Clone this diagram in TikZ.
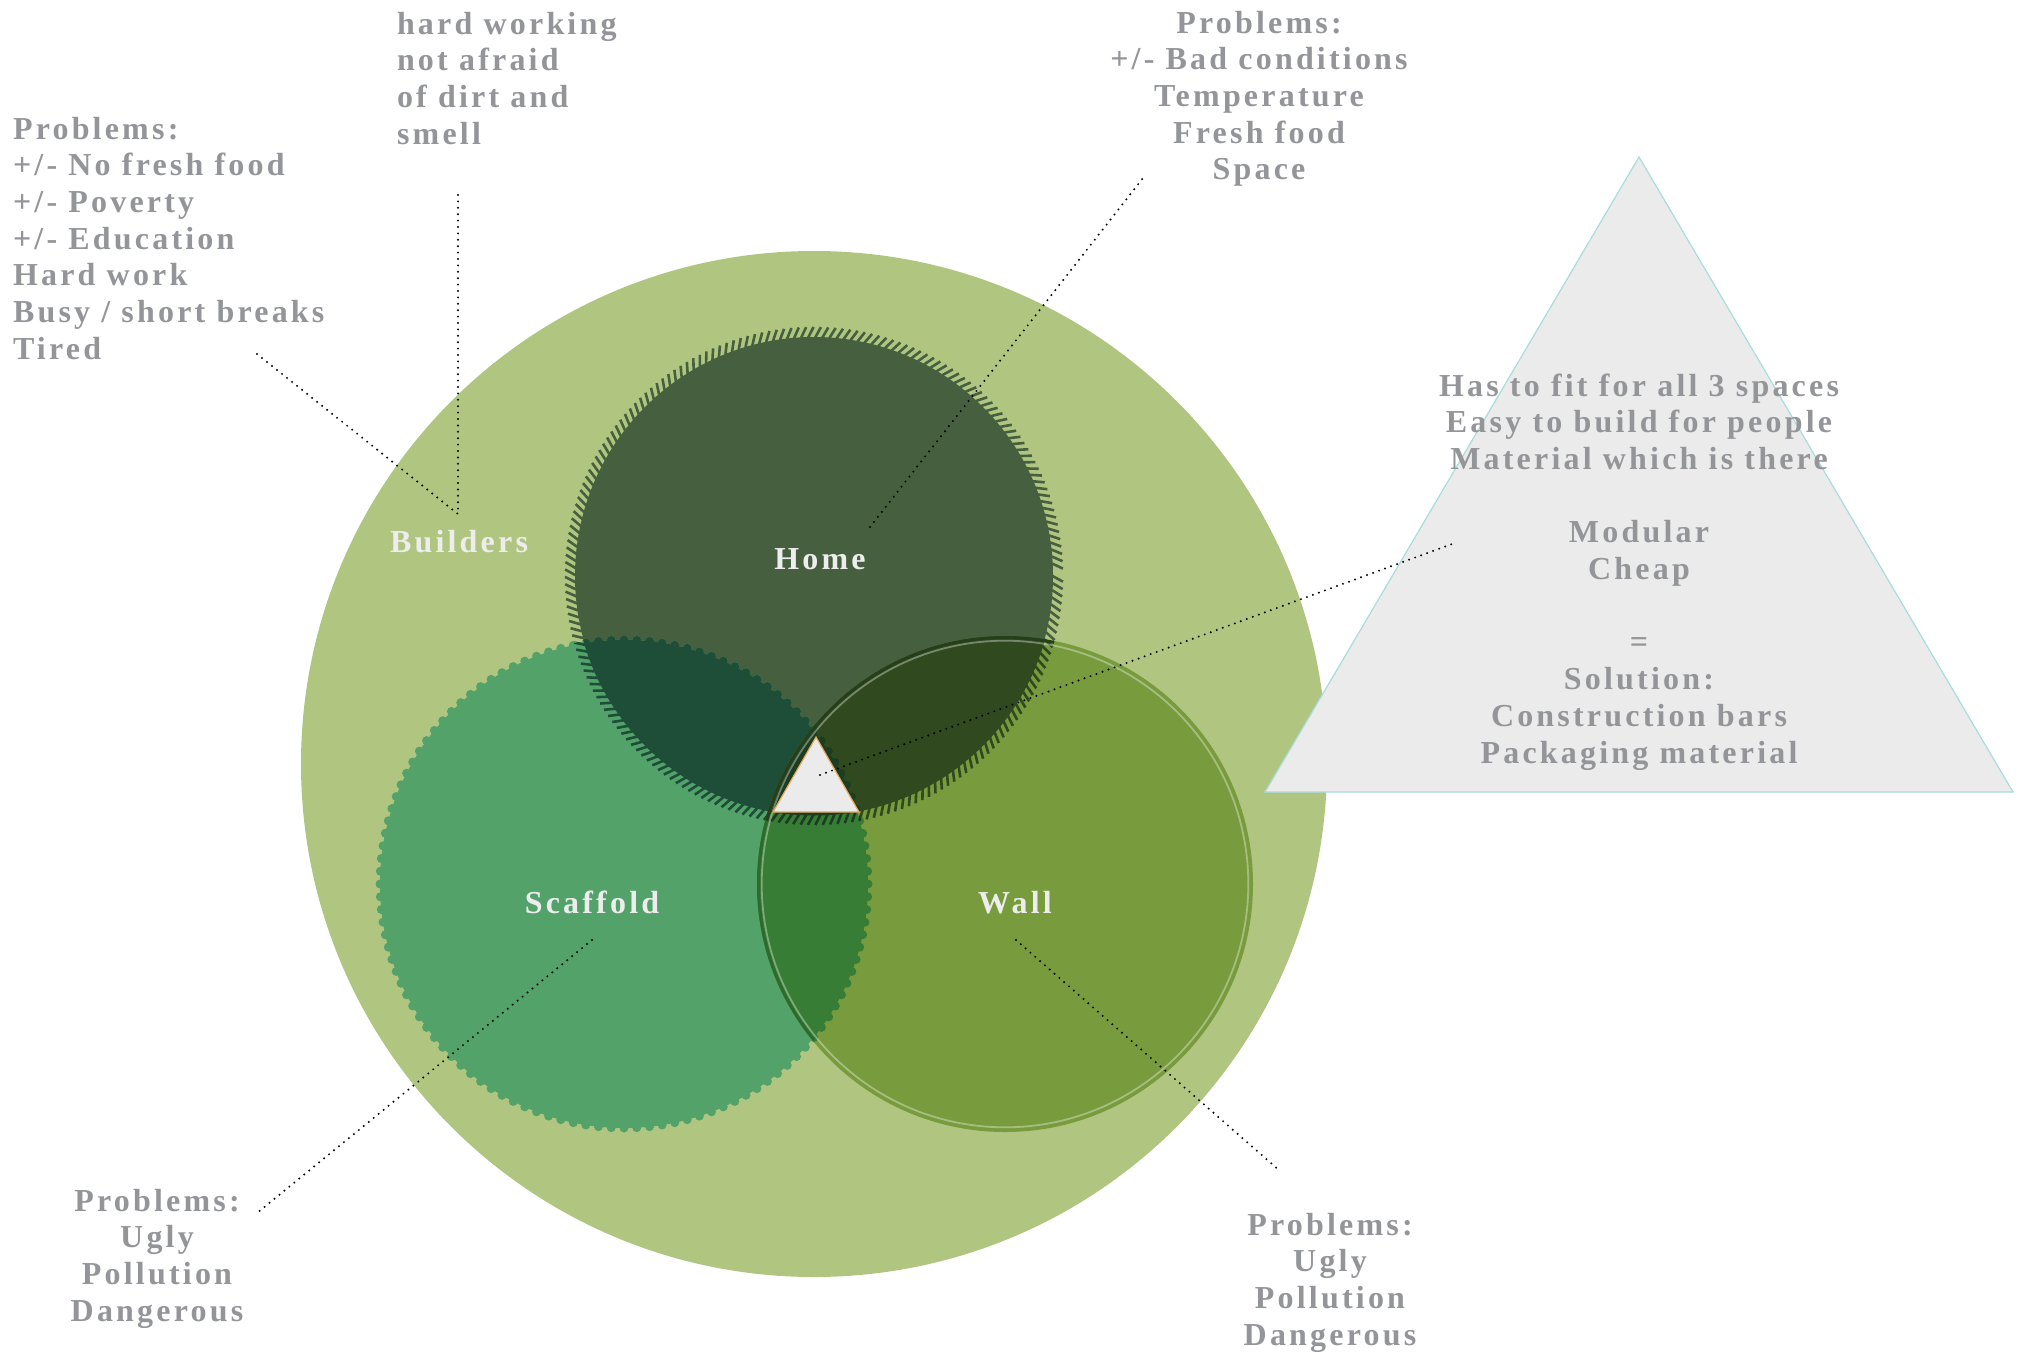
\documentclass[tikz,border=0pt]{standalone}
\usepackage{fontspec}
\newfontfamily\labfont{Liberation Serif}[LetterSpace=10]
\usetikzlibrary{calc}
\definecolor{txtgray}{HTML}{939599}
\definecolor{lblwhite}{HTML}{EDEDED}
\definecolor{bigc}{HTML}{B0C680}
\definecolor{homec}{HTML}{46603F}
\definecolor{scc}{HTML}{52A26A}
\definecolor{wallc}{HTML}{789B3D}
\definecolor{hsc}{HTML}{1E4D38}
\definecolor{hwc}{HTML}{30491F}
\definecolor{swc}{HTML}{377D35}
\definecolor{hswc}{HTML}{1C3D22}
\definecolor{swband}{HTML}{2D6B2D}
\definecolor{hwband}{HTML}{263F1B}
\definecolor{trifill}{HTML}{EBEBEB}
\definecolor{triedge}{HTML}{A9DCDD}
\definecolor{smalledge}{HTML}{E8A85A}
\newcommand{\homeTicks}[1]{\foreach \a in {0,1.7,...,358.4} \draw[#1, line width=2.6pt] ($(H)+(\a:238.5)$) -- ($(H)+(\a+1.3:249)$);}
\newcommand{\scBumps}[1]{\foreach \a in {0,3,...,357} \fill[#1] ($(S)+(\a:244)$) circle (4.5);}
\begin{document}
\begin{tikzpicture}[x=1pt,y=-1pt,
  txt/.style={inner sep=0pt, outer sep=0pt, text=txtgray, font=\labfont\bfseries\fontsize{32}{36.7}\selectfont},
  lbl/.style={txt, text=lblwhite},
  conn/.style={draw=black, line width=2.2pt, dash pattern=on 0pt off 6.4pt, line cap=round}]
\useasboundingbox (0,0) rectangle (2022,1352);

\coordinate (B) at (814,764);
\coordinate (H) at (814,576);
\coordinate (S) at (624,884);
\coordinate (W) at (1005,884);

% big circle
\fill[bigc] (B) circle (513);

% home
\fill[homec] (H) circle (239);
\homeTicks{homec}

% scaffold
\fill[scc] (S) circle (244);
\scBumps{scc}
\begin{scope}
  \clip (H) circle (239.5);
  \fill[hsc] (S) circle (244);
  \scBumps{hsc}
\end{scope}
\begin{scope}
  \clip (S) circle (246);
  \homeTicks{hsc}
\end{scope}

% wall
\fill[wallc] (W) circle (248);
\begin{scope}
  \clip (H) circle (239.5);
  \fill[hwc] (W) circle (248);
\end{scope}
\begin{scope}
  \clip (W) circle (248);
  \homeTicks{hwc}
\end{scope}
\begin{scope}
  \clip (S) circle (244);
  \fill[swc] (W) circle (248);
\end{scope}
\begin{scope}
  \clip (W) circle (248);
  \scBumps{swc}
\end{scope}
\begin{scope}
  \clip (H) circle (239.5);
  \clip (S) circle (244);
  \fill[hswc] (W) circle (248);
\end{scope}
\begin{scope}
  \clip (W) circle (248);
  \clip (S) circle (246);
  \homeTicks{hswc}
\end{scope}
\begin{scope}
  \clip (W) circle (248);
  \clip (H) circle (239.5);
  \scBumps{hswc}
\end{scope}
\begin{scope}
  \clip (S) circle (246);
  \draw[swband, line width=3pt] (W) circle (246.5);
\end{scope}
\begin{scope}
  \clip (H) circle (249);
  \draw[hwband, line width=3pt] (W) circle (246.5);
\end{scope}
\draw[white, opacity=0.35, line width=1.8pt] (W) circle (243.3);

% small triangle
\filldraw[fill=trifill, draw=smalledge, line width=1.2pt] (816,737) -- (859,812) -- (773,812) -- cycle;

% big triangle
\filldraw[fill=trifill, draw=triedge, line width=1.2pt] (1639,157) -- (2013,792) -- (1265,792) -- cycle;

% labels
\node[lbl, anchor=base] (builders) at (459,552) {Builders};
\node[lbl, anchor=base] (home) at (820,569) {Home};
\node[lbl, anchor=base] (scaffold) at (592,913) {Scaffold};
\node[lbl, anchor=base] (wall) at (1015,913) {Wall};

\node[txt, anchor=base west] (hw) at (397,34)
  {\begin{tabular}[t]{@{}l@{}}hard working\\not afraid\\of dirt and\\smell\end{tabular}};
\node[txt, anchor=base west] (bprob) at (13,139)
  {\begin{tabular}[t]{@{}l@{}}Problems:\\+/- No fresh food\\+/- Poverty\\+/- Education\\Hard work\\Busy / short breaks\\Tired\end{tabular}};
\node[txt, anchor=base] (hprob) at (1259,33)
  {\begin{tabular}[t]{@{}c@{}}Problems:\\+/- Bad conditions\\Temperature\\Fresh food\\Space\end{tabular}};
\node[txt, anchor=base] (tritext) at (1639,396)
  {\begin{tabular}[t]{@{}c@{}}Has to fit for all 3 spaces\\Easy to build for people\\Material which is there\\ \\Modular\\Cheap\\ \\=\\Solution:\\Construction bars\\Packaging material\end{tabular}};
\node[txt, anchor=base] (sprob) at (157,1211)
  {\begin{tabular}[t]{@{}c@{}}Problems:\\Ugly\\Pollution\\Dangerous\end{tabular}};
\node[txt, anchor=base] (wprob) at (1330,1235)
  {\begin{tabular}[t]{@{}c@{}}Problems:\\Ugly\\Pollution\\Dangerous\end{tabular}};

% connector ends
\coordinate (tiredEnd) at (257,354);
\coordinate (hwTop) at (458,195);
\coordinate (bldJoin) at (458,514);
\coordinate (homeIn) at (870,527);
\coordinate (homeOut) at (1143,178);
\coordinate (triIn) at (820,775);
\coordinate (triOut) at (1452,544);
\coordinate (scIn) at (592,940);
\coordinate (scOut) at (257,1213);
\coordinate (wlIn) at (1016,940);
\coordinate (wlOut) at (1280,1171);

\draw[conn] (tiredEnd) -- (bldJoin);
\draw[conn] (hwTop) -- (bldJoin);
\draw[conn] (homeIn) -- (homeOut);
\draw[conn] (triIn) -- (triOut);
\draw[conn] (scIn) -- (scOut);
\draw[conn] (wlIn) -- (wlOut);
\end{tikzpicture}
\end{document}
